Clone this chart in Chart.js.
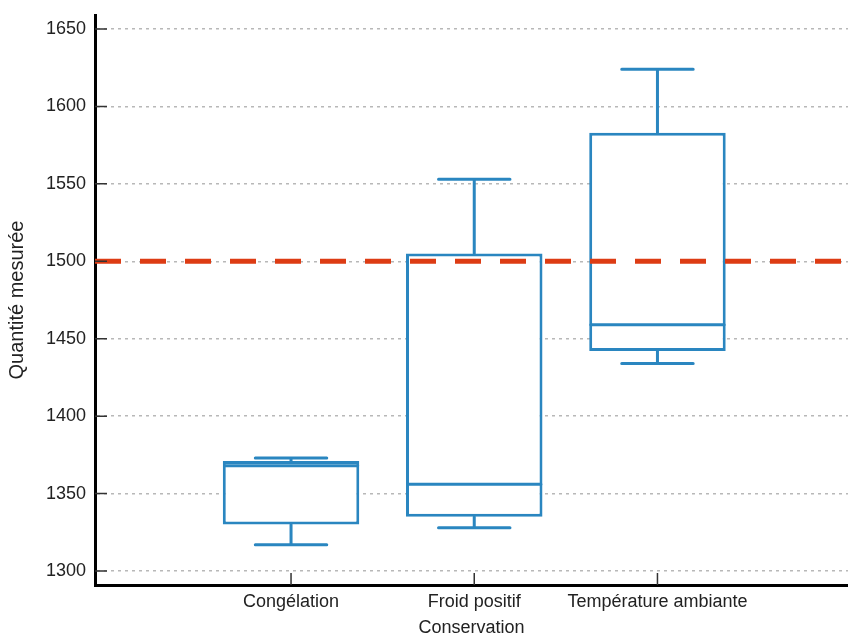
<!DOCTYPE html>
<html>
<head>
<meta charset="utf-8">
<script src="https://cdn.jsdelivr.net/npm/chart.js@4"></script>
<style>
  html, body { margin: 0; padding: 0; background: #fff; }
  #wrap { width: 848px; height: 639px; }
</style>
</head>
<body>
<div id="wrap"><canvas id="boites"></canvas></div>
<script>
// donnees
const categories = ['Congélation', 'Froid positif', 'Température ambiante'];
const positions = [1, 2, 3];
const moustacheBas = [1317, 1328, 1434];
const q1 = [1330, 1335, 1442];
const mediane = [1368, 1356, 1459];
const q3 = [1371, 1505, 1583];
const moustacheHaut = [1373, 1553, 1624];
const seuil = 1500;
const ticksY = [1300, 1350, 1400, 1450, 1500, 1550, 1600, 1650];

const bleu = '#2a86c0';
const rouge = '#dd3c14';
const police = "'Liberation Sans', Arial, sans-serif";

// moustaches, medianes et petits traits des axes
const moustaches = {
    id: 'moustaches',
    afterDatasetsDraw(chart) {
        const ctx = chart.ctx;
        const x = chart.scales.x;
        const y = chart.scales.y;
        ctx.save();
        ctx.strokeStyle = bleu;
        ctx.lineWidth = 3;
        ctx.lineCap = 'round';
        positions.forEach((p, i) => {
            const cx = x.getPixelForValue(p);
            const demiBoite = (x.getPixelForValue(p + 0.372) - x.getPixelForValue(p - 0.372)) / 2;
            const demiCap = (x.getPixelForValue(p + 0.195) - x.getPixelForValue(p - 0.195)) / 2;
            ctx.beginPath();
            // mediane
            ctx.moveTo(cx - demiBoite + 1.5, y.getPixelForValue(mediane[i]));
            ctx.lineTo(cx + demiBoite - 1.5, y.getPixelForValue(mediane[i]));
            // moustache haute
            ctx.moveTo(cx, y.getPixelForValue(q3[i]));
            ctx.lineTo(cx, y.getPixelForValue(moustacheHaut[i]));
            ctx.moveTo(cx - demiCap, y.getPixelForValue(moustacheHaut[i]));
            ctx.lineTo(cx + demiCap, y.getPixelForValue(moustacheHaut[i]));
            // moustache basse
            ctx.moveTo(cx, y.getPixelForValue(q1[i]));
            ctx.lineTo(cx, y.getPixelForValue(moustacheBas[i]));
            ctx.moveTo(cx - demiCap, y.getPixelForValue(moustacheBas[i]));
            ctx.lineTo(cx + demiCap, y.getPixelForValue(moustacheBas[i]));
            ctx.stroke();
        });
        // traits de graduation vers l'interieur
        ctx.strokeStyle = '#333';
        ctx.lineWidth = 1.5;
        ctx.lineCap = 'butt';
        ctx.beginPath();
        ticksY.forEach(v => {
            const py = y.getPixelForValue(v);
            ctx.moveTo(x.left, py);
            ctx.lineTo(x.left + 12, py);
        });
        positions.forEach(p => {
            const px = x.getPixelForValue(p);
            ctx.moveTo(px, y.bottom);
            ctx.lineTo(px, y.bottom - 12);
        });
        ctx.stroke();
        ctx.restore();
    }
};

const ctx = document.getElementById('boites').getContext('2d');
const chart = new Chart(ctx, {
    type: 'bar',
    data: {
        datasets: [
            {
                type: 'line',
                data: [{x: -0.07, y: seuil}, {x: 4.04, y: seuil}],
                borderColor: rouge,
                borderWidth: 5,
                borderDash: [26, 19],
                pointRadius: 0,
                order: 0
            },
            {
                type: 'bar',
                data: positions.map((p, i) => ({x: p, y: [q1[i], q3[i]]})),
                backgroundColor: '#ffffff',
                borderColor: bleu,
                borderWidth: 3,
                borderSkipped: false,
                categoryPercentage: 1,
                barPercentage: 0.745,
                order: 1
            }
        ]
    },
    plugins: [moustaches],
    options: {
        responsive: true,
        maintainAspectRatio: false,
        animation: false,
        layout: { padding: { top: 15, right: 0, left: 0, bottom: 0 } },
        plugins: {
            legend: { display: false },
            tooltip: { enabled: false }
        },
        scales: {
            x: {
                type: 'linear',
                offset: false,
                min: -0.07,
                max: 4.04,
                afterBuildTicks: s => { s.ticks = positions.map(v => ({value: v})); },
                afterFit: s => { s.height = 54; },
                grid: { display: false, drawTicks: false },
                border: { display: true, color: '#000', width: 3 },
                ticks: {
                    autoSkip: false,
                    maxRotation: 0,
                    padding: 6,
                    color: '#222',
                    font: { family: police, size: 18 },
                    callback: v => categories[positions.indexOf(v)] || ''
                },
                title: {
                    display: true,
                    text: 'Conservation',
                    color: '#222',
                    font: { family: police, size: 18 },
                    padding: { top: 0, bottom: 0 }
                }
            },
            y: {
                min: 1291,
                max: 1659,
                afterBuildTicks: s => { s.ticks = ticksY.map(v => ({value: v})); },
                afterFit: s => {
                    s.width = 95;
                    s.paddingTop = 0;
                    s.paddingBottom = 0;
                },
                grid: { color: '#b8b8b8', lineWidth: 1.5, drawTicks: false },
                border: { display: true, color: '#000', width: 3, dash: [3, 4] },
                ticks: {
                    padding: 9,
                    color: '#222',
                    font: { family: police, size: 18 },
                    callback: v => String(v)
                },
                title: {
                    display: true,
                    text: 'Quantité mesurée',
                    color: '#222',
                    font: { family: police, size: 20 },
                    padding: { top: 5, bottom: 0 }
                }
            }
        }
    }
});
</script>
</body>
</html>
